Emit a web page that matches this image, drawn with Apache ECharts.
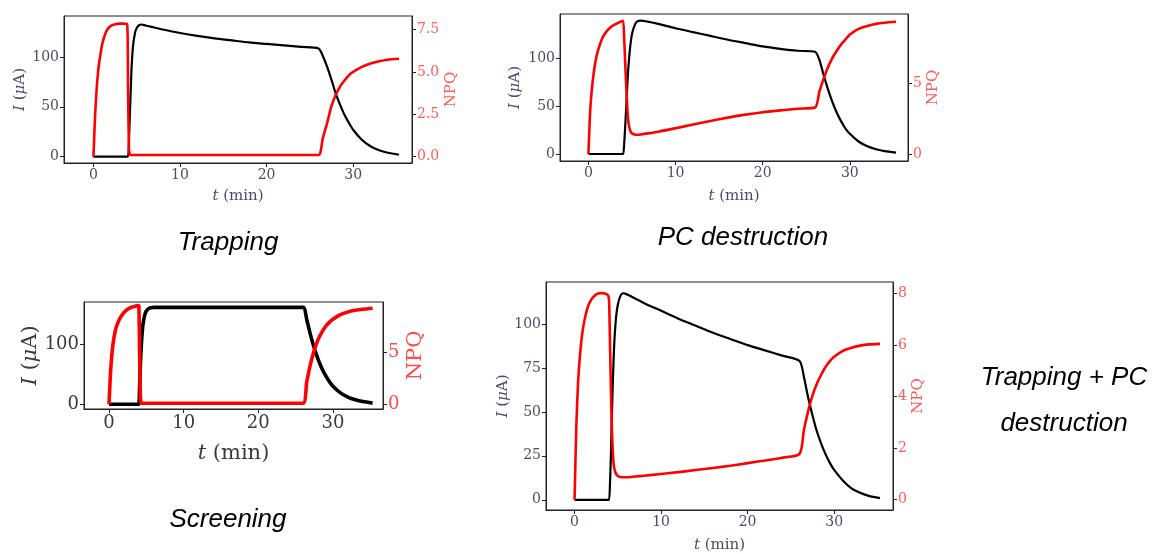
<!DOCTYPE html>
<html><head><meta charset="utf-8">
<script src="https://cdn.jsdelivr.net/npm/echarts@6/dist/echarts.min.js"></script>
<style>html,body{margin:0;padding:0;background:#fff}#c{width:1152px;height:554px}</style>
</head><body><div id="c"></div>
<script>
// time samples (min)
const t = [0,0.2,0.4,0.6,0.8,1.0,1.3,1.6,2.0,2.5,3.0,3.5,3.9,4.0,4.1,4.2,4.3,4.4,4.5,4.6,4.8,5.0,5.3,5.6,6.0,7,8,10,12,14,16,18,20,22,24,26,26.5,27,27.5,28,28.5,29,29.5,30,31,32,33,34,35.3];

// Trapping
const I1 = [0,0,0,0,0,0,0,0,0,0,0,0,0,0,15,40,65,88,103,113,124,129,132,132.5,131.5,129.5,127.5,124,121,118.5,116.5,114.5,113,111.5,110,108.5,101,90,77,63,52,42,34,27,17,10.5,6.5,4,2];
const N1 = [0,2.5,4.2,5.3,6.0,6.6,7.15,7.5,7.72,7.82,7.85,7.85,7.82,4.0,0.5,0.12,0.1,0.1,0.1,0.1,0.1,0.1,0.1,0.1,0.1,0.1,0.1,0.1,0.1,0.1,0.1,0.1,0.1,0.1,0.1,0.1,1.1,2.0,3.0,3.65,4.15,4.5,4.8,5.0,5.3,5.5,5.63,5.72,5.78];
// PC destruction
const I2 = [0,0,0,0,0,0,0,0,0,0,0,0,0,0,10,25,42,60,78,92,112,125,134,138,139,137.5,135.5,131,127,123,119,115.5,112,109.5,107.5,106.5,98,82,67,54,43,34,26.5,21,13,8,5,3,1.5];
const N2 = [0,3.0,4.6,5.7,6.5,7.1,7.7,8.2,8.6,8.95,9.15,9.3,9.4,9.4,8.2,6.8,5.3,4.0,2.9,2.2,1.65,1.45,1.37,1.36,1.38,1.47,1.57,1.82,2.08,2.33,2.57,2.78,2.95,3.08,3.2,3.28,4.4,5.35,6.15,6.8,7.3,7.75,8.1,8.45,8.85,9.05,9.2,9.28,9.35];
// Screening
const I3 = [0,0,0,0,0,0,0,0,0,0,0,0,0,0,30,65,92,112,127,137,149,155,159,160.5,161,161,161,161,161,161,161,161,161,161,161,161,140,115,93,75,60,48,38,30,19,12,7.5,4.5,2];
const N3 = [0,3.0,4.9,6.1,6.9,7.45,8.0,8.4,8.8,9.1,9.3,9.4,9.45,9.4,5.0,0.8,0.1,0.1,0.1,0.1,0.1,0.1,0.1,0.1,0.1,0.1,0.1,0.1,0.1,0.1,0.1,0.1,0.1,0.1,0.1,0.1,2.2,3.9,5.2,6.2,6.9,7.45,7.85,8.15,8.6,8.85,9.0,9.1,9.2];
// Trapping + PC destruction
const I4 = [0,0,0,0,0,0,0,0,0,0,0,0,0,0,10,25,45,63,78,90,104,111,116,117.5,117,114.5,112,107.5,103,99,95,91.5,88,85,82,79,70,58,48,39,32,26,21,17,11,6.5,4,2.2,1];
const N4 = [0,2.8,4.5,5.5,6.2,6.7,7.2,7.55,7.8,7.97,8.02,8.0,7.92,7.6,6.0,4.3,2.9,2.0,1.45,1.2,1.0,0.92,0.88,0.87,0.87,0.9,0.93,1.0,1.07,1.15,1.23,1.32,1.42,1.52,1.63,1.78,2.7,3.45,4.05,4.5,4.85,5.15,5.38,5.55,5.78,5.9,5.98,6.03,6.05];

// tick values
const xTicks = [0,10,20,30];
const yL1Ticks = [0,50,100], yR1Ticks = [0,2.5,5,7.5];
const yL2Ticks = [0,50,100], yR2Ticks = [0,5];
const yL3Ticks = [0,100],    yR3Ticks = [0,5];
const yL4Ticks = [0,25,50,75,100], yR4Ticks = [0,2,4,6,8];

const captions = [
  {text:'Trapping', x:228, y:243},
  {text:'PC destruction', x:743, y:238},
  {text:'Screening', x:228, y:520},
  {text:'Trapping + PC', x:1064, y:378},
  {text:'destruction', x:1064, y:424}
];

const panels = [
  {I:I1,N:N1,yl:yL1Ticks,yr:yR1Ticks,dec:1,grid:{left:64,top:16,width:348,height:147},x:[-3.4,36.8],ylr:[-6.3,141],yrr:[-0.37,8.30],fs:14,nfs:15,lg:36,rg:30,xg:26,lw:[2.2,2.6],lc:'#4b4b6b',rc:'#ff5b5b'},
  {I:I2,N:N2,yl:yL2Ticks,yr:yR2Ticks,dec:0,grid:{left:560,top:14,width:348,height:147},x:[-3.26,36.67],ylr:[-7.3,145.8],yrr:[-0.5,9.9],fs:14,nfs:15,lg:37,rg:12,xg:28,lw:[2.2,2.6],lc:'#4b4b6b',rc:'#ff5b5b'},
  {I:I3,N:N3,yl:yL3Ticks,yr:yR3Ticks,dec:0,grid:{left:84,top:302,width:299,height:107},x:[-3.35,36.7],ylr:[-7.8,170],yrr:[-0.45,9.8],fs:18,nfs:21,lg:43,rg:22,xg:34,lw:[3.6,3.6],lc:'#3a3a3a',rc:'#ff4d4d'},
  {I:I4,N:N4,yl:yL4Ticks,yr:yR4Ticks,dec:0,grid:{left:546,top:282,width:347,height:229},x:[-3.3,36.8],ylr:[-5.8,123.9],yrr:[-0.4,8.45],fs:14,nfs:15,lg:35,rg:18,xg:28,lw:[2.2,2.6],lc:'#4b4b6b',rc:'#ff5b5b'}
];

const SERIF = 'DejaVu Serif';
const grids=[], xAxes=[], yAxes=[], series=[];
panels.forEach((p,i)=>{
  grids.push(Object.assign({show:true,borderColor:'#222',borderWidth:1,containLabel:false},p.grid));
  const lineCol = '#222';
  const common = ()=>({
    axisLine:{show:true,onZero:false,lineStyle:{color:lineCol,width:1}},
    splitLine:{show:false}
  });
  xAxes.push(Object.assign(common(), {
    type:'value', gridIndex:i, min:p.x[0], max:p.x[1],
    axisTick:{show:true,length:4,customValues:xTicks,lineStyle:{color:lineCol}},
    axisLabel:{customValues:xTicks,color:p.lc,fontFamily:SERIF,fontSize:p.fs,margin:5},
    name:'{i|t} (min)', nameLocation:'middle', nameGap:p.xg,
    nameTextStyle:{fontFamily:SERIF,fontSize:p.nfs,color:p.lc,rich:{i:{fontFamily:SERIF,fontStyle:'italic',fontSize:p.nfs,color:p.lc}}}
  }));
  yAxes.push(Object.assign(common(), {
    type:'value', gridIndex:i, position:'left', min:p.ylr[0], max:p.ylr[1],
    axisTick:{show:true,length:4,customValues:p.yl,lineStyle:{color:lineCol}},
    axisLabel:{customValues:p.yl,color:p.lc,fontFamily:SERIF,fontSize:p.fs,margin:5},
    name:'{i|I} ({i|μ}A)', nameLocation:'middle', nameRotate:90, nameGap:p.lg,
    nameTextStyle:{fontFamily:SERIF,fontSize:p.nfs,color:p.lc,rich:{i:{fontFamily:SERIF,fontStyle:'italic',fontSize:p.nfs,color:p.lc}}}
  }));
  yAxes.push(Object.assign(common(), {
    type:'value', gridIndex:i, position:'right', min:p.yrr[0], max:p.yrr[1],
    axisTick:{show:true,length:4,customValues:p.yr,lineStyle:{color:lineCol}},
    axisLabel:{customValues:p.yr,color:p.rc,fontFamily:SERIF,fontSize:p.fs,margin:5,formatter:v=>Number(v).toFixed(p.dec)},
    name:'NPQ', nameLocation:'middle', nameRotate:90, nameGap:p.rg,
    nameTextStyle:{fontFamily:SERIF,fontSize:p.nfs,color:p.rc}
  }));
  series.push({type:'line',xAxisIndex:i,yAxisIndex:2*i,showSymbol:false,animation:false,smooth:0.25,
    lineStyle:{color:'#000',width:p.lw[0]},data:t.map((x,k)=>[x,p.I[k]])});
  series.push({type:'line',xAxisIndex:i,yAxisIndex:2*i+1,showSymbol:false,animation:false,smooth:0.25,
    lineStyle:{color:'#ff0000',width:p.lw[1]},data:t.map((x,k)=>[x,p.N[k]])});
});

const chart = echarts.init(document.getElementById('c'));
chart.setOption({
  animation:false,
  backgroundColor:'#fff',
  grid:grids, xAxis:xAxes, yAxis:yAxes, series:series,
  graphic:captions.map(c=>({type:'text',x:c.x,y:c.y,
    style:{text:c.text,fontFamily:'Liberation Sans',fontStyle:'italic',fontSize:26,fill:'#000',align:'center',verticalAlign:'middle'}}))
});
</script></body></html>
